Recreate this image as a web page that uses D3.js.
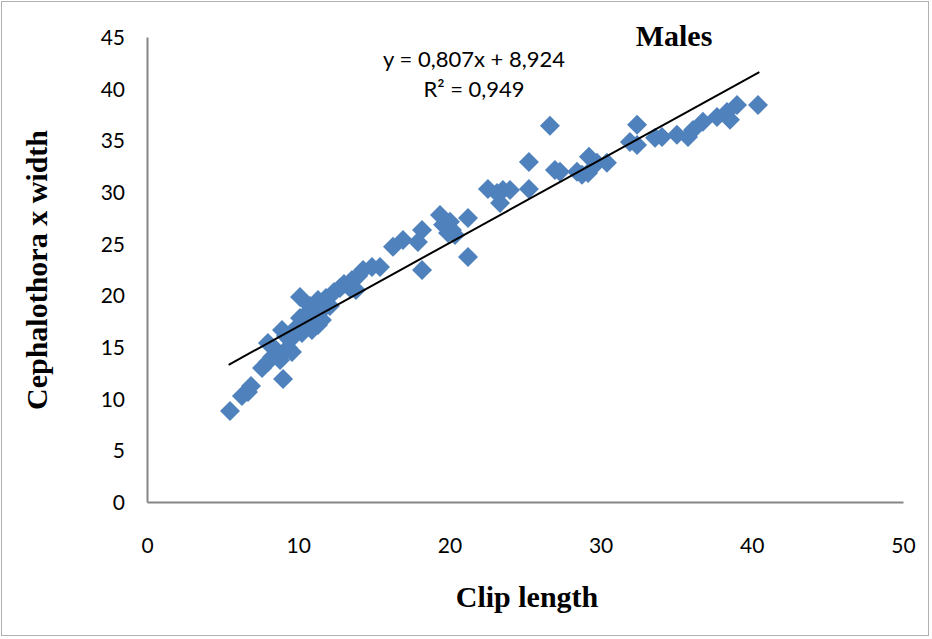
<!DOCTYPE html>
<html>
<head>
<meta charset="utf-8">
<script src="https://cdn.jsdelivr.net/npm/d3@7"></script>
<style>
  body { margin: 0; background: #fff; }
  .tick text { font-family: Lato, "Open Sans", sans-serif; font-size: 21px; fill: #000; }
  .axisTitle { font-family: "Liberation Serif", "Times New Roman", serif; font-weight: bold; font-size: 30px; }
</style>
</head>
<body>
<div id="scatter"></div>
<script>
var svgWidth = 932;
var svgHeight = 639;

var margin = { top: 37, right: 29, bottom: 137, left: 147 };
var width = svgWidth - margin.left - margin.right;
var height = svgHeight - margin.top - margin.bottom;

// clip length
var clipLength = [
  5.49, 6.28, 6.68, 6.88, 9.00, 7.61, 8.00, 8.27, 8.80, 8.00,
  8.53, 9.06, 8.93, 9.46, 9.72, 10.25, 10.91, 10.12, 10.52, 10.12,
  10.78, 11.18, 11.31, 11.57, 11.31, 11.84, 12.10, 11.71, 12.37, 12.76,
  13.03, 13.56, 13.43, 13.82, 13.96, 14.29, 14.88, 15.41, 10.65, 9.85,
  9.33, 9.59, 9.19,
  16.27, 16.93, 17.92, 18.19, 18.19, 19.38, 19.58, 20.04, 20.17, 20.37,
  19.91, 21.23, 21.23, 22.55, 23.35, 23.54, 24.01, 23.15, 25.26, 25.26,
  26.65, 26.98, 27.31, 28.44, 28.77, 29.23, 29.17, 29.76, 30.42, 31.94,
  32.41, 32.41, 33.60, 34.06, 35.05, 35.78, 36.11, 36.77, 37.70, 38.36,
  38.56, 39.02, 40.41
];
// cephalothorax width
var cephWidth = [
  8.81, 10.26, 10.65, 11.23, 11.91, 12.97, 13.55, 14.04, 13.75, 15.39,
  14.71, 14.52, 16.65, 15.68, 16.17, 16.36, 16.65, 17.81, 18.20, 19.85,
  18.97, 18.39, 17.13, 17.62, 19.55, 19.75, 18.97, 18.78, 20.33, 20.72,
  21.10, 21.49, 20.72, 20.52, 21.88, 22.46, 22.75, 22.75, 17.42, 16.84,
  14.91, 14.52, 16.07,
  24.69, 25.36, 25.17, 26.33, 22.46, 27.78, 26.82, 27.11, 26.33, 25.85,
  26.04, 27.49, 23.72, 30.30, 28.94, 30.20, 30.20, 29.91, 32.91, 30.30,
  36.40, 32.14, 31.95, 31.95, 31.66, 33.40, 31.85, 32.82, 32.82, 34.85,
  36.50, 34.56, 35.24, 35.33, 35.53, 35.33, 36.01, 36.79, 37.27, 37.75,
  36.98, 38.43, 38.43
];

var xTicks = [0, 10, 20, 30, 40, 50];
var yTicks = [0, 5, 10, 15, 20, 25, 30, 35, 40, 45];
var slope = 0.807;
var intercept = 8.924;
var trendRange = [5.4, 40.5];

var svg = d3.select("#scatter")
  .append("svg")
  .attr("width", svgWidth)
  .attr("height", svgHeight);

// chart border
svg.append("rect")
  .attr("x", 1.5).attr("y", 1.5)
  .attr("width", svgWidth - 5).attr("height", svgHeight - 5)
  .attr("fill", "none")
  .attr("stroke", "#b0b0b0")
  .attr("stroke-width", 1);

var chartGroup = svg.append("g")
  .attr("transform", `translate(${margin.left}, ${margin.top})`);

var xLinearScale = d3.scaleLinear().domain([0, 50]).range([0, width]);
var yLinearScale = d3.scaleLinear().domain([0, 45]).range([height, 0]);

var bottomAxis = d3.axisBottom(xLinearScale).tickValues(xTicks).tickSize(0).tickPadding(36);
var leftAxis = d3.axisLeft(yLinearScale).tickValues(yTicks).tickSize(0).tickPadding(22);

var gx = chartGroup.append("g")
  .attr("transform", `translate(0, ${height})`)
  .call(bottomAxis);
var gy = chartGroup.append("g")
  .call(leftAxis);

[gx, gy].forEach(function(g) {
  g.select(".domain").attr("stroke", "#868686").attr("stroke-width", 2);
});
gy.selectAll(".tick text").attr("dy", "0.35em");

// points
var diamond = "M0,-10L10,0L0,10L-10,0Z";
chartGroup.selectAll(".pt")
  .data(clipLength)
  .enter()
  .append("path")
  .attr("class", "pt")
  .attr("d", diamond)
  .attr("transform", (d, i) => `translate(${xLinearScale(d)}, ${yLinearScale(cephWidth[i])})`)
  .attr("fill", "#4F81BD");

// trend line
chartGroup.append("line")
  .attr("x1", xLinearScale(trendRange[0]))
  .attr("y1", yLinearScale(slope * trendRange[0] + intercept))
  .attr("x2", xLinearScale(trendRange[1]))
  .attr("y2", yLinearScale(slope * trendRange[1] + intercept))
  .attr("stroke", "#000")
  .attr("stroke-width", 2);

// equation
var eq = chartGroup.append("text")
  .attr("text-anchor", "middle")
  .attr("font-family", "Lato, 'Open Sans', sans-serif")
  .attr("font-size", "22px");
eq.append("tspan").attr("x", 327).attr("y", 30).text("y = 0,807x + 8,924");
eq.append("tspan").attr("x", 327).attr("y", 60).text("R² = 0,949");

// title
svg.append("text")
  .attr("class", "axisTitle")
  .attr("x", 674).attr("y", 46)
  .attr("text-anchor", "middle")
  .text("Males");

// axis labels
svg.append("text")
  .attr("class", "axisTitle")
  .attr("x", 527).attr("y", 607)
  .attr("text-anchor", "middle")
  .text("Clip length");

svg.append("text")
  .attr("class", "axisTitle")
  .attr("transform", "translate(47, 270) rotate(-90)")
  .attr("text-anchor", "middle")
  .text("Cephalothora x width");
</script>
</body>
</html>
